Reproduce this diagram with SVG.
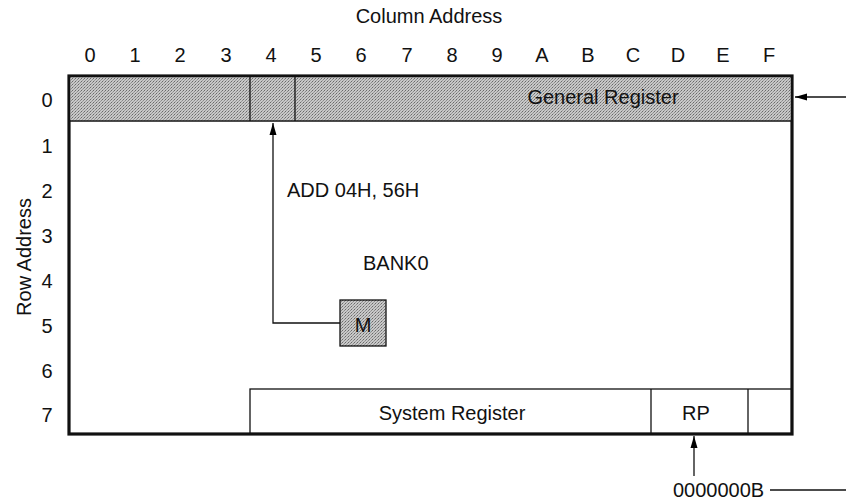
<svg xmlns="http://www.w3.org/2000/svg" width="846" height="501" viewBox="0 0 846 501">
<defs>
<pattern id="screen" width="3" height="3" patternUnits="userSpaceOnUse">
<rect width="3" height="3" fill="#c8c8c8"/>
<rect width="1" height="1" fill="#6a6a6a"/>
<rect x="2" y="1" width="1" height="1" fill="#8a8a8a"/>
<rect x="1" y="2" width="1" height="1" fill="#9a9a9a"/>
</pattern>
<marker id="ah" viewBox="0 0 12 10" refX="12" refY="5" markerWidth="12" markerHeight="10" markerUnits="userSpaceOnUse" orient="auto">
<path d="M0,1.5 L12,5 L0,8.5 Z" fill="#000"/>
</marker>
<style>
text{font-family:"Liberation Sans",Arial,sans-serif;font-size:20px;fill:#111}
.c{text-anchor:middle}
.thin{fill:none;stroke:#111;stroke-width:1.3}
.conn{fill:none;stroke:#111;stroke-width:1.3}
</style>
</defs>
<rect width="846" height="501" fill="#fff"/>
<g id="axis-labels">
<text class="c" x="429" y="23">Column Address</text>
<text x="90" y="62" class="c">0</text>
<text x="135" y="62" class="c">1</text>
<text x="180" y="62" class="c">2</text>
<text x="226" y="62" class="c">3</text>
<text x="271" y="62" class="c">4</text>
<text x="316" y="62" class="c">5</text>
<text x="361" y="62" class="c">6</text>
<text x="407" y="62" class="c">7</text>
<text x="452" y="62" class="c">8</text>
<text x="497" y="62" class="c">9</text>
<text x="542" y="62" class="c">A</text>
<text x="588" y="62" class="c">B</text>
<text x="633" y="62" class="c">C</text>
<text x="678" y="62" class="c">D</text>
<text x="723" y="62" class="c">E</text>
<text x="769" y="62" class="c">F</text>
<text class="c" x="47" y="107">0</text>
<text class="c" x="47" y="153">1</text>
<text class="c" x="47" y="198">2</text>
<text class="c" x="47" y="243">3</text>
<text class="c" x="47" y="288">4</text>
<text class="c" x="47" y="333">5</text>
<text class="c" x="47" y="378">6</text>
<text class="c" x="47" y="422">7</text>
<text class="c" transform="translate(31,257) rotate(-90)">Row Address</text>
</g>
<g id="bank0">
<rect x="69" y="76" width="723" height="358" fill="none" stroke="#111" stroke-width="3.2"/>
<text x="363" y="270">BANK0</text>
</g>
<g id="general-register">
<rect x="70.5" y="77.5" width="720" height="43" fill="url(#screen)"/>
<line x1="70" y1="121" x2="791" y2="121" class="thin"/>
<line x1="250" y1="77" x2="250" y2="121" class="thin"/>
<line x1="295" y1="77" x2="295" y2="121" class="thin"/>
<text class="c" x="603" y="104">General Register</text>
</g>
<g id="m">
<rect x="340" y="300" width="46" height="46" fill="url(#screen)" stroke="#111" stroke-width="1.3"/>
<text class="c" x="363" y="332">M</text>
</g>
<g id="system-register">
<rect x="250" y="389" width="541" height="44" fill="#fff" stroke="#111" stroke-width="1.3"/>
<line x1="651" y1="389" x2="651" y2="433" class="thin"/>
<line x1="748" y1="389" x2="748" y2="433" class="thin"/>
<text class="c" x="452" y="420">System Register</text>
<text class="c" x="696" y="420">RP</text>
</g>
<g id="labels">
<text x="287" y="197">ADD 04H, 56H</text>
<text x="673" y="497">0000000B</text>
</g>
<g id="connectors">
<polyline class="conn" points="340,323 273,323 273,123" marker-end="url(#ah)"/>
<line class="conn" x1="846" y1="97" x2="795" y2="97" marker-end="url(#ah)"/>
<line class="conn" x1="694" y1="476" x2="694" y2="436" marker-end="url(#ah)"/>
<line class="conn" x1="770" y1="490" x2="846" y2="490"/>
</g>
</svg>
